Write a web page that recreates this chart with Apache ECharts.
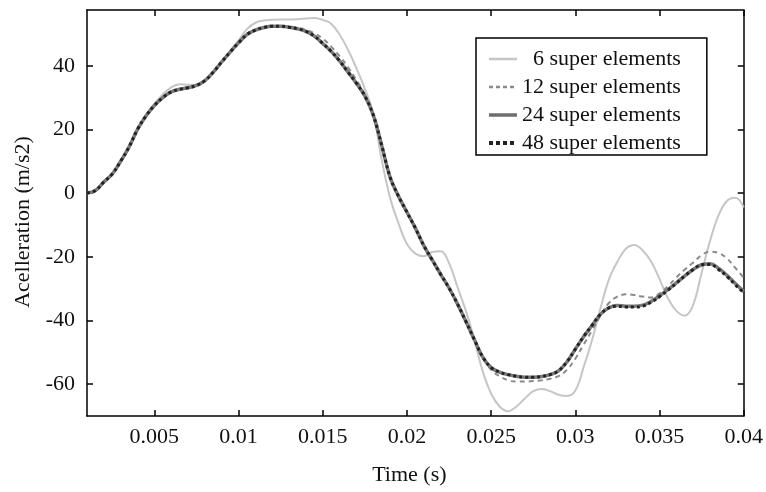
<!DOCTYPE html>
<html>
<head>
<meta charset="utf-8">
<script src="https://cdn.jsdelivr.net/npm/echarts@6/dist/echarts.min.js"></script>
<style>
html,body{margin:0;padding:0;background:#fff;}
#chart{width:766px;height:492px;}
</style>
</head>
<body>
<div id="chart"></div>
<script>
// Time samples (s)
var times = [];
for (var i = 0; i <= 78; i++) { times.push(+(0.001 + i * 0.0005).toFixed(4)); }

var xTicks = [0.005, 0.01, 0.015, 0.02, 0.025, 0.03, 0.035, 0.04];
var yTicks = [-60, -40, -20, 0, 20, 40];
var seriesNames = ['6 super elements', '12 super elements', '24 super elements', '48 super elements'];

var s6 = [0, 0.8, 3.5, 6, 10, 14.5, 20, 24.5, 28, 31, 33.2, 34.2, 34, 34, 35.5, 38, 41.2, 44.5, 48, 51.5,
  53.5, 54.2, 54.4, 54.5, 54.5, 54.6, 54.8, 55, 54.4, 53.2, 49.8, 45, 39.2, 32.8, 25, 10.5, -1.5, -9.5, -16, -19,
  -19.8, -18.5, -18.3, -22, -29.5, -37, -46, -56, -63, -67, -68.5, -67, -64.5, -62.2, -61.5, -62.2, -63.3, -63.7, -62, -54.5,
  -46, -36, -27, -21.5, -17.5, -16.3, -18, -21.5, -27, -33, -37, -38.5, -35, -25, -15, -7, -2.5, -1.5, -4.5];

var s12 = [0, 0.8, 3.5, 6, 10, 14.5, 20, 24.2, 27.5, 30, 31.8, 32.6, 33.1, 33.8, 35.3, 38, 41.2, 44.3, 47.2, 49.8,
  51.2, 52.0, 52.4, 52.5, 52.3, 51.9, 51.3, 50.2, 48.5, 46, 43, 39.5, 35.5, 31, 24.5, 15, 5, -1, -6, -11,
  -16.5, -21, -25.5, -29.8, -34.8, -40.3, -46, -51.5, -55.5, -57.5, -58.8, -59.2, -59.2, -59, -58.8, -58.3, -57.5, -55.5, -52, -47.5,
  -43, -38.5, -34.5, -32.5, -31.8, -32, -32.5, -32.8, -31.5, -29.2, -26.5, -24, -21.8, -19.5, -18.4, -18.8, -20.5, -23.5, -26.6];

var s24 = [0, 0.8, 3.5, 6, 10, 14.5, 20, 24.2, 27.5, 30, 31.8, 32.6, 33.1, 33.8, 35.3, 38, 41.2, 44.3, 47.2, 49.8,
  51.2, 52.0, 52.4, 52.4, 52.1, 51.6, 50.8, 49.3, 47, 44.5, 41.5, 38, 34.5, 30.5, 24.5, 15, 5, -1, -6, -11,
  -16.5, -21, -25.5, -29.8, -34.8, -40.3, -46, -51.5, -54.8, -56.2, -57, -57.5, -57.8, -57.8, -57.6, -57, -55.8, -53, -49, -45,
  -41.5, -38, -36, -35.3, -35.5, -35.5, -35.2, -34, -32.3, -30.3, -28.2, -26, -24, -22.5, -22.2, -23.6, -25.8, -28.4, -30.9];

var s48 = [0, 0.8, 3.5, 6, 10, 14.5, 20, 24.2, 27.5, 30, 31.8, 32.6, 33.1, 33.8, 35.3, 38, 41.2, 44.3, 47.2, 49.8,
  51.2, 52.0, 52.4, 52.4, 52.1, 51.6, 50.8, 49.3, 47, 44.5, 41.5, 38, 34.5, 30.5, 24.5, 15, 5, -1, -6, -11,
  -16.5, -21, -25.5, -29.8, -34.8, -40.3, -46, -51.5, -54.8, -56.2, -57, -57.5, -57.8, -57.8, -57.6, -57, -55.8, -53, -49, -45,
  -41.5, -38, -36, -35.5, -35.8, -35.8, -35.5, -34.3, -32.5, -30.5, -28.3, -26, -24, -22.5, -22.4, -24, -26.2, -28.8, -31.3];

function pairs(vals) { return times.map(function (t, i) { return [t, vals[i]]; }); }

var FONT = 'Liberation Serif';
var FS = 22;
var chart = echarts.init(document.getElementById('chart'), null, { renderer: 'canvas' });

var axisCommon = {
  axisLine: { show: true, onZero: false, lineStyle: { color: '#000', width: 1.5 } },
  splitLine: { show: false }
};

chart.setOption({
  animation: false,
  backgroundColor: '#fff',
  grid: { left: 87, right: 20, top: 10, bottom: 76, containLabel: false },
  legend: {
    orient: 'vertical',
    left: 476, top: 38,
    padding: [10, 26, 1, 11],
    itemGap: 6,
    itemWidth: 28, itemHeight: 14,
    borderColor: '#000', borderWidth: 1.5,
    backgroundColor: '#fff',
    itemStyle: { opacity: 0 },
    data: [
      { name: seriesNames[0], lineStyle: { width: 2.5, color: '#c6c6c6', type: 'solid' } },
      { name: seriesNames[1], lineStyle: { width: 2.5, color: '#8a8a8a', type: [4, 3] } },
      { name: seriesNames[2], lineStyle: { width: 3.5, color: '#6e6e6e', type: 'solid' } },
      { name: seriesNames[3], lineStyle: { width: 4, color: '#222', type: [4, 3] } }
    ],
    formatter: function (n) { return n.charAt(0) === '6' ? '  ' + n : n; },
    textStyle: { fontFamily: FONT, fontSize: FS, color: '#111' }
  },
  xAxis: [
    Object.assign({
      type: 'value', min: 0.001, max: 0.04, position: 'bottom',
      name: 'Time (s)', nameLocation: 'middle', nameGap: 48,
      nameTextStyle: { fontFamily: FONT, fontSize: FS, color: '#111', padding: [0, 12, 0, 0] },
      axisTick: { show: true, inside: true, length: 6, customValues: xTicks, lineStyle: { color: '#000', width: 1.5 } },
      axisLabel: { show: true, customValues: xTicks, margin: 10, fontFamily: FONT, fontSize: FS, color: '#111',
        formatter: function (v) { return String(+v.toFixed(3)); } }
    }, axisCommon),
    Object.assign({
      type: 'value', min: 0.001, max: 0.04, position: 'top',
      axisTick: { show: true, inside: true, length: 6, customValues: xTicks, lineStyle: { color: '#000', width: 1.5 } },
      axisLabel: { show: false }
    }, axisCommon)
  ],
  yAxis: [
    Object.assign({
      type: 'value', min: -70, max: 57.5, position: 'left',
      name: 'Acelleration (m/s2)', nameLocation: 'middle', nameGap: 53, nameRotate: 90,
      nameTextStyle: { fontFamily: FONT, fontSize: FS, color: '#111', padding: [0, 18, 0, 0] },
      axisTick: { show: true, inside: true, length: 6, customValues: yTicks, lineStyle: { color: '#000', width: 1.5 } },
      axisLabel: { show: true, customValues: yTicks, margin: 12, fontFamily: FONT, fontSize: FS, color: '#111' }
    }, axisCommon),
    Object.assign({
      type: 'value', min: -70, max: 57.5, position: 'right',
      axisTick: { show: true, inside: true, length: 6, customValues: yTicks, lineStyle: { color: '#000', width: 1.5 } },
      axisLabel: { show: false }
    }, axisCommon)
  ],
  series: [
    { name: seriesNames[0], type: 'line', data: pairs(s6), smooth: 0.4, showSymbol: false, symbol: 'none',
      lineStyle: { color: '#c6c6c6', width: 2, type: 'solid' }, itemStyle: { color: '#c6c6c6' }, z: 2 },
    { name: seriesNames[1], type: 'line', data: pairs(s12), smooth: 0.4, showSymbol: false, symbol: 'none',
      lineStyle: { color: '#8a8a8a', width: 2, type: [5, 4] }, itemStyle: { color: '#8a8a8a' }, z: 3 },
    { name: seriesNames[2], type: 'line', data: pairs(s24), smooth: 0.4, showSymbol: false, symbol: 'none',
      lineStyle: { color: '#7a7a7a', width: 3.5, type: 'solid' }, itemStyle: { color: '#7a7a7a' }, z: 4 },
    { name: seriesNames[3], type: 'line', data: pairs(s48), smooth: 0.4, showSymbol: false, symbol: 'none',
      lineStyle: { color: '#222', width: 3, type: [3, 3] }, itemStyle: { color: '#222' }, z: 5 }
  ]
});
</script>
</body>
</html>
